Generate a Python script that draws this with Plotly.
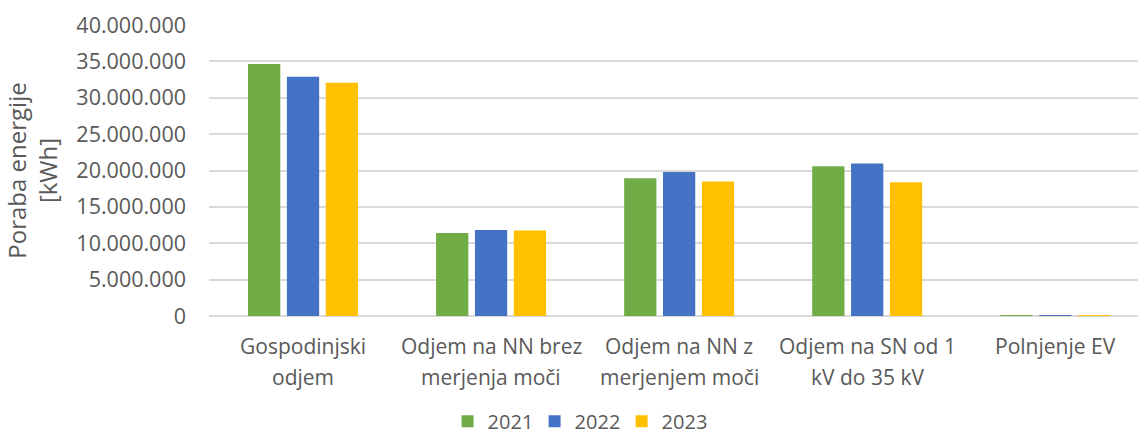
import plotly.graph_objects as go

# Electricity consumption by customer group, 2021-2023 (kWh)
categories = [
    "Gospodinjski odjem",
    "Odjem na NN brez merjenja moči",
    "Odjem na NN z merjenjem moči",
    "Odjem na SN od 1 kV do 35 kV",
    "Polnjenje EV",
]
# category labels split over two lines
label_lines = [
    ("Gospodinjski", "odjem"),
    ("Odjem na NN brez", "merjenja moči"),
    ("Odjem na NN z", "merjenjem moči"),
    ("Odjem na SN od 1", "kV do 35 kV"),
    ("Polnjenje EV", ""),
]
years = ["2021", "2022", "2023"]
values_2021 = [34_650_000, 11_420_000, 18_940_000, 20_600_000, 20_000]
values_2022 = [32_900_000, 11_830_000, 19_780_000, 20_960_000, 50_000]
values_2023 = [32_050_000, 11_740_000, 18_490_000, 18_400_000, 80_000]
colors = ["#70AD47", "#4472C4", "#FFC000"]

FONT = "Open Sans"
TEXT = "#595959"

fig = go.Figure()
for year, vals, col in zip(years, [values_2021, values_2022, values_2023], colors):
    fig.add_trace(go.Bar(
        x=categories, y=vals, name=year,
        marker=dict(color=col, line=dict(width=0)),
    ))

PLOT_H = 437 - 25 - 121

# two-line category labels below the axis
for cat, (l1, l2) in zip(categories, label_lines):
    for i, line in enumerate((l1, l2)):
        if not line:
            continue
        fig.add_annotation(
            x=cat, xref="x",
            y=-(30 + 31 * i) / PLOT_H, yref="paper",
            text=line, showarrow=False,
            xanchor="center", yanchor="middle",
            font=dict(family=FONT, size=21, color=TEXT),
        )

fig.update_layout(
    width=1138, height=437,
    margin=dict(l=209, r=0, t=25, b=121, autoexpand=False),
    paper_bgcolor="white", plot_bgcolor="white",
    font=dict(family=FONT, size=20, color=TEXT),
    separators=",.",
    barmode="group",
    bargap=0.38,
    bargroupgap=0.17,
    showlegend=True,
    legend=dict(
        orientation="h",
        xref="container", x=0.508, xanchor="center",
        yref="container", y=0.036, yanchor="middle",
        font=dict(family=FONT, size=20, color=TEXT),
        itemwidth=30,
        entrywidth=42,
    ),
)

fig.update_xaxes(
    type="category",
    range=[-0.5, 4.44],
    showgrid=False,
    showline=False,
    ticks="",
    showticklabels=False,
    automargin=False,
)

fig.update_yaxes(
    range=[0, 40_000_000],
    dtick=5_000_000,
    tickformat=",d",
    showgrid=True,
    gridcolor="#D9D9D9",
    gridwidth=1.5,
    zeroline=True,
    zerolinecolor="#D9D9D9",
    zerolinewidth=1.5,
    showline=False,
    ticks="",
    automargin=False,
    tickfont=dict(family=FONT, size=21.5, color=TEXT),
    ticklabelstandoff=22,
    title=dict(
        text="Poraba energije<br>[kWh]",
        font=dict(family=FONT, size=24, color=TEXT),
        standoff=14,
    ),
)

fig.write_html("out.html")
